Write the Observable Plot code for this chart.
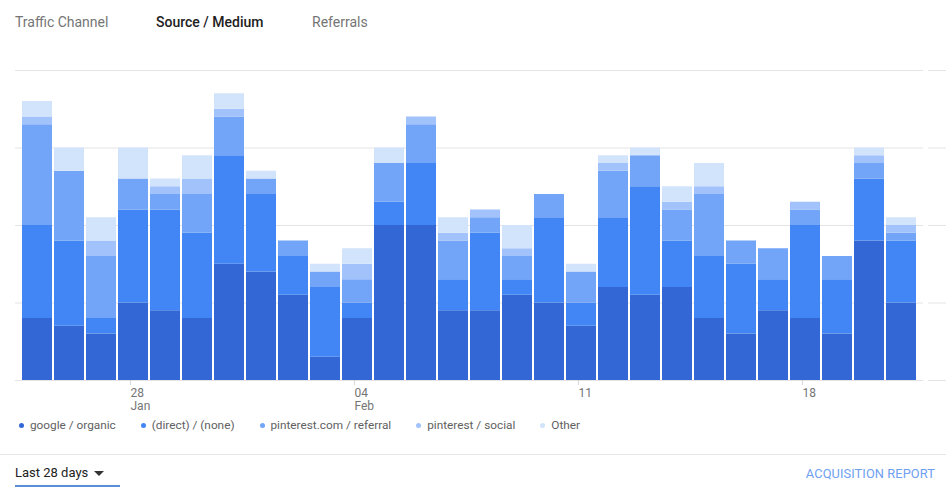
<!DOCTYPE html>
<html>
<head>
<meta charset="utf-8">
<script src="https://cdn.jsdelivr.net/npm/d3@7"></script>
<script src="https://cdn.jsdelivr.net/npm/@observablehq/plot@0.6"></script>
<style>
  body { margin: 0; background: #fff; font-family: Roboto, "Noto Sans", sans-serif; }
  #wrap { position: relative; width: 946px; height: 491px; overflow: hidden; background: #fff; }
  .tab { position: absolute; top: 14px; font-size: 14px; color: #757575; white-space: nowrap; }
  #chart { position: absolute; left: 0; top: 46px; }
  #legend { position: absolute; left: 19px; top: 418px; display: flex; align-items: center; font-size: 11.8px; color: #616161; white-space: nowrap; }
  #legend .item { display: flex; align-items: center; margin-right: 25px; }
  #legend .dot { width: 5px; height: 5px; border-radius: 50%; margin-right: 6px; }
  #divider { position: absolute; left: 0; top: 454px; width: 946px; height: 1px; background: #e6e6e6; }
  #range { position: absolute; left: 15px; top: 465px; font-size: 13px; color: #212121; white-space: nowrap; }
  #range .arrow { display: inline-block; width: 0; height: 0; border-left: 5px solid transparent; border-right: 5px solid transparent; border-top: 5px solid #333; margin-left: 6px; vertical-align: middle; }
  #underline { position: absolute; left: 15px; top: 485px; width: 105px; height: 2px; background: #5a8fd8; }
  #report { position: absolute; right: 11px; top: 466px; font-size: 12.8px; color: #6ea0ef; white-space: nowrap; letter-spacing: 0.1px; }
</style>
</head>
<body>
<div id="wrap">
  <div class="tab" style="left:15px">Traffic Channel</div>
  <div class="tab" style="left:156px;color:#212121;font-weight:500">Source / Medium</div>
  <div class="tab" style="left:312px">Referrals</div>
  <div id="chart"></div>
  <div id="legend"></div>
  <div id="divider"></div>
  <div id="range">Last 28 days<span class="arrow"></span></div>
  <div id="underline"></div>
  <div id="report">ACQUISITION REPORT</div>
</div>
<script>
// Categories: days (Jan 25 – Feb 21)
const days = [
  "Jan 25","Jan 26","Jan 27","Jan 28","Jan 29","Jan 30","Jan 31",
  "Feb 01","Feb 02","Feb 03","Feb 04","Feb 05","Feb 06","Feb 07",
  "Feb 08","Feb 09","Feb 10","Feb 11","Feb 12","Feb 13","Feb 14",
  "Feb 15","Feb 16","Feb 17","Feb 18","Feb 19","Feb 20","Feb 21"
];

// Series names and colours
const seriesNames = ["google / organic", "(direct) / (none)", "pinterest.com / referral", "pinterest / social", "Other"];
const seriesColors = ["#3367d6", "#4285f4", "#72a4f7", "#a1c2fa", "#d2e3fc"];

// Series values (sessions per day)
const googleOrganic = [8,7,6,10,9,8,15,14,11,3,8,20,20,9,9,11,10,7,12,11,12,8,6,9,8,6,18,10];
const directNone    = [12,11,2,12,13,11,14,10,5,9,2,3,8,4,10,2,11,3,9,14,6,8,9,4,12,7,8,8];
const pinterestRef  = [13,9,8,4,2,5,5,2,2,2,3,5,5,5,2,3,3,4,6,4,4,8,3,4,2,3,2,1];
const pinterestSoc  = [1,0,2,0,1,2,1,0,0,0,2,0,1,1,1,1,0,0,1,0,1,1,0,0,1,0,1,1];
const otherSrc      = [2,3,3,4,1,3,2,1,0,1,2,2,0,2,0,3,0,1,1,1,2,3,0,0,0,0,1,1];

// Axis ticks
const yTicks = [0, 10, 20, 30, 40];
const tickDays = ["Jan 28", "Feb 04", "Feb 11", "Feb 18"];
const tickLabels = ["28\nJan", "04\nFeb", "11", "18"];

const seriesValues = [googleOrganic, directNone, pinterestRef, pinterestSoc, otherSrc];
const rows = [];
days.forEach((d, i) => {
  seriesNames.forEach((s, j) => rows.push({day: d, series: s, value: seriesValues[j][i]}));
});
const labelMap = new Map(tickDays.map((d, i) => [d, tickLabels[i]]));

const chart = Plot.plot({
  width: 946,
  height: 374,
  marginTop: 24,
  marginBottom: 40,
  marginLeft: 15,
  marginRight: 0,
  x: {domain: days, range: [15, 923], paddingInner: 1/16, paddingOuter: 0.21875, axis: null, label: null},
  y: {domain: [0, 40], axis: null, label: null},
  color: {domain: seriesNames, range: seriesColors},
  style: {fontFamily: "Roboto, sans-serif", fontSize: "12px", background: "transparent", overflow: "visible"},
  marks: [
    Plot.gridY(yTicks, {insetRight: 23, stroke: "#e4e4e4", strokeOpacity: 1}),
    Plot.gridY(yTicks, {insetLeft: 913, stroke: "#e4e4e4", strokeOpacity: 1}),
    Plot.barY(rows, {x: "day", y: "value", fill: "series", order: seriesNames}),
    Plot.axisX(tickDays, {
      tickSize: 5, tickPadding: 2, stroke: "#d6d6d6", fill: "#757575", label: null,
      tickFormat: d => labelMap.get(d), textAnchor: "start", dx: -3, lineHeight: 1.1, fontSize: 12
    })
  ]
});
document.getElementById("chart").appendChild(chart);

const legend = document.getElementById("legend");
seriesNames.forEach((s, i) => {
  const item = document.createElement("div");
  item.className = "item";
  const dot = document.createElement("span");
  dot.className = "dot";
  dot.style.background = seriesColors[i];
  const label = document.createElement("span");
  label.textContent = s;
  item.appendChild(dot);
  item.appendChild(label);
  legend.appendChild(item);
});
</script>
</body>
</html>
